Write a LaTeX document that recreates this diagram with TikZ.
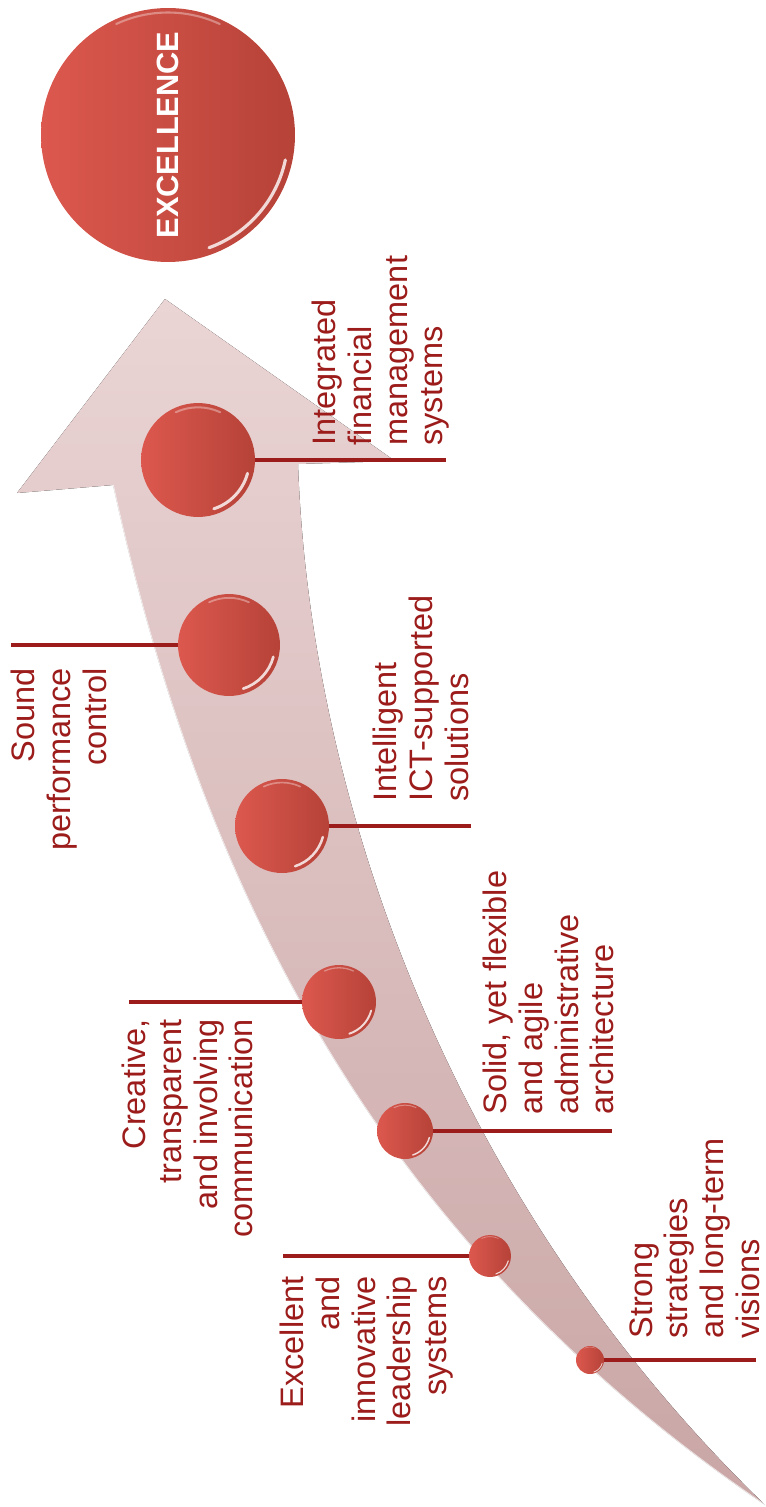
\documentclass[tikz,border=0pt]{standalone}
\usepackage{fontspec}
\setmainfont{Liberation Sans}
\usepackage{xcolor}
\definecolor{txtred}{RGB}{155, 28, 26}
\definecolor{ballleft}{RGB}{220, 88, 78}
\definecolor{ballright}{RGB}{182, 66, 56}
\definecolor{arrowtop}{RGB}{234, 212, 212}
\definecolor{arrowbottom}{RGB}{202, 166, 166}

\begin{document}
\begin{tikzpicture}[x=0.02cm, y=-0.02cm,
    ball/.style={circle, left color=ballleft, right color=ballright, inner sep=0pt},
    shine/.style={white, opacity=.8, line cap=round},
    lead/.style={draw=txtred, line width=2.2pt},
    lbl/.style={rotate=90, text=txtred, inner sep=0pt,
                font=\fontsize{18.5}{20.3}\selectfont}]
  \useasboundingbox (0,0) rectangle (765,1507);

  % the rising arrow
  \fill[top color=arrowtop, bottom color=arrowbottom]
    (765,1505) .. controls (450,1200) and (310,800) .. (298,464)
    -- (395,461) -- (165,299) -- (17,493) -- (113,485)
    .. controls (195,860) and (360,1230) .. (765,1505) -- cycle;
  \draw[white, opacity=.7, line width=.8pt]
    (113,485) .. controls (195,860) and (360,1230) .. (765,1505);

  \node[ball, minimum size=5.08cm, rotate=90, text=white,
        font=\fontsize{17.5}{20}\selectfont\bfseries] (goal) at (168,135) {EXCELLENCE};
  \draw[shine, line width=1.8pt] (goal.center) ++(-12:2.4cm) arc[start angle=-12, end angle=-70, radius=2.4cm];
  \draw[shine, opacity=.35, line width=1.2pt] (goal.center) ++(65:2.45cm) arc[start angle=65, end angle=115, radius=2.45cm];

  \foreach \n/\x/\y/\r in {b1/198/460/57, b2/229/645/51, b3/282/826/47, b4/339/1002/37,
                           b5/405/1131/28, b6/490/1256/21, b7/590/1360/14}{
    \node[ball, minimum size=\r*0.04cm] (\n) at (\x,\y) {};
    \draw[shine, line width=\r*0.03pt] (\n.center) ++(-15:\r*0.018cm)
      arc[start angle=-15, end angle=-72, radius=\r*0.018cm];
    \draw[shine, opacity=.35, line width=\r*0.02pt] (\n.center) ++(65:\r*0.0185cm)
      arc[start angle=65, end angle=115, radius=\r*0.0185cm];
  }

  \coordinate (e1) at (446,460);
  \coordinate (e2) at (11,645);
  \coordinate (e3) at (471,826);
  \coordinate (e4) at (129,1002);
  \coordinate (e5) at (612,1131);
  \coordinate (e6) at (283,1256);
  \coordinate (e7) at (756,1360);

  \draw[lead] (b1.east) -- (e1);
  \draw[lead] (b2.west) -- (e2);
  \draw[lead] (b3.east) -- (e3);
  \draw[lead] (b4.west) -- (e4);
  \draw[lead] (b5.east) -- (e5);
  \draw[lead] (b6.west) -- (e6);
  \draw[lead] (b7.east) -- (e7);

  \node[lbl, align=left, anchor=north west] (t1) at (312,446)
    {Integrated\\financial\\management\\systems};
  \node[lbl, align=right, anchor=north east] (t2) at (11,668)
    {Sound\\performance\\control};
  \node[lbl, align=left, anchor=north west] (t3) at (373,802)
    {Intelligent\\ICT-supported\\solutions};
  \node[lbl, align=right, anchor=north east] (t4) at (122,1019)
    {Creative,\\transparent\\and involving\\communication};
  \node[lbl, align=left, anchor=north west] (t5) at (483,1115)
    {Solid, yet flexible\\and agile\\administrative\\architecture};
  \node[lbl, align=right, anchor=north east] (t6) at (280,1276)
    {Excellent\\and\\innovative\\leadership\\systems};
  \node[lbl, align=left, anchor=north west] (t7) at (629,1339)
    {Strong\\strategies\\and long-term\\visions};
\end{tikzpicture}
\end{document}
